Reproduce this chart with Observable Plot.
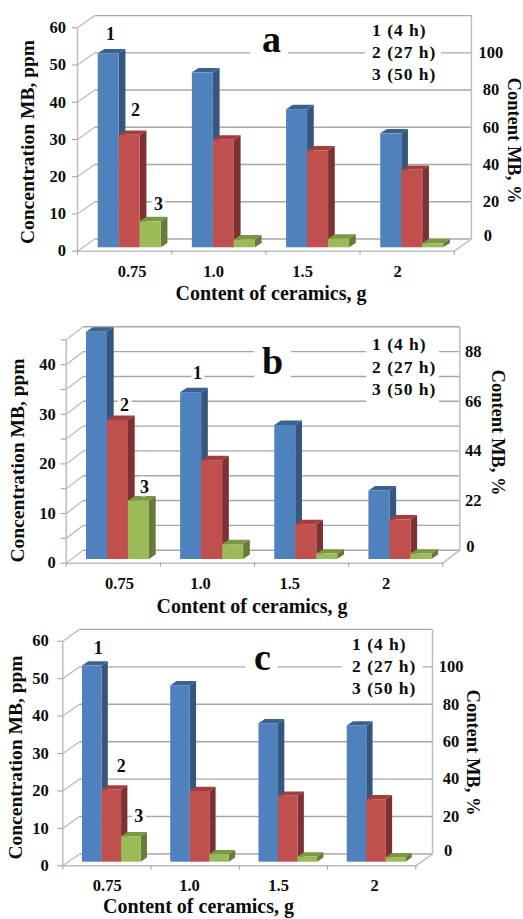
<!DOCTYPE html>
<html><head><meta charset="utf-8">
<script src="https://cdn.jsdelivr.net/npm/d3@7"></script>
<script src="https://cdn.jsdelivr.net/npm/@observablehq/plot@0.6"></script>
<style>html,body{margin:0;padding:0;background:#fff}#root{position:relative;width:523px;height:919px;overflow:hidden}
#root svg{position:absolute;left:0;overflow:visible;background:transparent}</style>
</head><body><div id="root"></div>
<script>
const categories = ["0.75", "1.0", "1.5", "2"];
const seriesNames = ["1 (4 h)", "2 (27 h)", "3 (50 h)"];
const seriesFill = ["#4f81bd", "#c0504d", "#9bbb59"];
const seriesTop = ["#3a6291", "#a23f3d", "#7d9844"];
const seriesSide = ["#34567f", "#7d3231", "#667a3a"];
const xTitle = "Content of ceramics, g";
const yTitle = "Concentration MB, ppm";
const rightTitle = "Content MB, %";

const a4h = [52.1, 47, 37.1, 30.6];
const a27h = [30.2, 28.9, 26, 20.8];
const a50h = [7, 2.1, 2.3, 1.1];
const b4h = [45.8, 33.6, 27, 13.8];
const b27h = [28, 19.9, 7, 8];
const b50h = [11.8, 3, 1.1, 1.1];
const c4h = [52.4, 47.1, 37, 36.4];
const c27h = [19.3, 18.9, 17.6, 16.7];
const c50h = [6.8, 2, 1.4, 1.2];

const aTicks = [0, 10, 20, 30, 40, 50, 60];
const bTicks = [0, 5, 10, 15, 20, 25, 30, 35, 40, 45];
const cTicks = aTicks;
const aPct = [0, 20, 40, 60, 80, 100];
const bPct = [0, 22, 44, 66, 88];
const cPct = aPct;

const SERIF = "'Liberation Serif','Times New Roman',serif";

const panels = [
  {top:0, H:310, letter:"a", vals:[a4h,a27h,a50h], ticks:aTicks, pct:aPct, ratio:2, max:60,
   x0:77, x1:453.7, y0:250.7, yT:27.3, wdx:17.2, wdy:12.2, bar:-3.4, start:.22, bw:.223, bdx:6.7, bdy:4.4, pad:8.5,
   labelAt:[.58,1.445,2.39,3.4], labelDy:21, rdx:19.5,
   xT:[270.5,293], yTi:[27,141.5], rT:[513.5,140], let:[271,39],
   legX:371.5, legY:[30,52,74],
   nums:[[110,33.5],[135,110],[158,204]],
   patches:[[365,441,17,84],[250,288,46,58]]},
  {top:310, H:310, letter:"b", vals:[b4h,b27h,b50h], ticks:bTicks, pct:bPct, ratio:2.2, max:45,
   x0:65.7, x1:442.3, y0:562.7, yT:339.3, wdx:17, wdy:13, bar:-3.7, start:.2155, bw:.223, bdx:6.7, bdy:4.4, pad:7.5,
   labelAt:[.566,1.426,2.374,3.397], labelDy:20.6, rdx:13.5,
   xT:[251.5,606.5], yTi:[17,460], rT:[497.5,432], let:[272,361],
   legX:371.5, legY:[344,367,389],
   nums:[[197,373],[124,405],[144,487]],
   patches:[[366,439,335,408],[254,290.7,335,390]]},
  {top:620, H:299, letter:"c", vals:[c4h,c27h,c50h], ticks:cTicks, pct:cPct, ratio:2, max:60,
   x0:62.3, x1:415.3, y0:865.3, yT:640.7, wdx:16.7, wdy:11.8, bar:-3.6, start:.223, bw:.2215, bdx:6.3, bdy:4.3, pad:11,
   labelAt:[.503,1.435,2.446,3.533], labelDy:20, rdx:18.5,
   xT:[198,906.5], yTi:[15,757], rT:[472,752], let:[262,657],
   legX:351.5, legY:[644,666,688],
   nums:[[97.7,648],[120.7,766],[138.3,815.7]],
   patches:[[341.7,423,632,700],[245,278,660,672]]}
];

const GRID = "#a8a8a8", AXIS = "#bdbdbd";

function poly(points, fill) {
  const p = document.createElementNS("http://www.w3.org/2000/svg", "polygon");
  p.setAttribute("points", points.map(q => q.join(",")).join(" "));
  p.setAttribute("fill", fill);
  return p;
}

function draw(P) {
  const W = 523;
  const ml = P.x0, mr = W - P.x1, mt = P.yT - P.top, mb = P.H - (P.y0 - P.top);
  const pxU = (P.y0 - P.yT) / P.max, pxX = (P.x1 - P.x0) / 4;
  const dxU = P.wdx / pxX, dyU = P.wdy / pxU;
  const X = px => (px - P.x0) / pxX, Y = py => (P.y0 - py) / pxU;

  const note = (s, px, py, o = {}) => Plot.text([s], {
    frameAnchor: "top-left", dx: px - ml, dy: py - P.top - mt,
    textAnchor: "middle", lineAnchor: "middle", fill: "#0c0c0c", fontWeight: "bold", ...o
  });

  const frame = [
    {x1:0, y1:0, x2:0, y2:P.max},
    {x1:0, y1:0, x2:4, y2:0},
    {x1:4, y1:0, x2:4+dxU, y2:dyU},
    {x1:4+dxU, y1:dyU, x2:4+dxU, y2:P.max+dyU}
  ];

  const barMarks = P.vals.map((vals, s) => {
    const rows = vals.map((v, i) => ({i, v, name: seriesNames[s], cat: categories[i]}));
    return Plot.rect(rows, {
      x1: d => d.i + P.start + s * P.bw,
      x2: d => d.i + P.start + (s + 1) * P.bw,
      y1: () => 0, y2: d => d.v,
      fill: seriesFill[s], dy: P.bar,
      render(index, scales, values, dimensions, context, next) {
        const g = next(index, scales, values, dimensions, context);
        for (const k of index) {
          const l = values.x1[k], r = values.x2[k], t = values.y2[k], b = values.y1[k];
          const e = P.bdx, h = P.bdy;
          g.insertBefore(poly([[r,t],[r+e,t-h],[r+e,b-h],[r,b]], seriesSide[s]), g.firstChild);
          g.insertBefore(poly([[l,t],[l+e,t-h],[r+e,t-h],[r,t]], seriesTop[s]), g.firstChild);
        }
        return g;
      }
    });
  });

  const svg = Plot.plot({
    width: W, height: P.H,
    marginLeft: ml, marginRight: mr, marginTop: mt, marginBottom: mb,
    x: {domain: [0, 4], axis: null},
    y: {domain: [0, P.max], axis: null},
    style: {fontFamily: SERIF, fontSize: "16.5px", fontWeight: "bold", color: "#0c0c0c", background: "transparent"},
    marks: [
      Plot.link(P.ticks, {x1: () => dxU, y1: d => d + dyU, x2: () => 4 + dxU, y2: d => d + dyU, stroke: GRID, strokeWidth: 1.4}),
      Plot.link(P.ticks, {x1: () => 0, y1: d => d, x2: () => dxU, y2: d => d + dyU, stroke: AXIS, strokeWidth: 1.3}),
      Plot.link(frame, {x1: "x1", y1: "y1", x2: "x2", y2: "y2", stroke: AXIS, strokeWidth: 1.5}),
      Plot.rect(P.patches, {x1: d => X(d[0]), x2: d => X(d[1]), y1: d => Y(d[2]), y2: d => Y(d[3]), fill: "white"}),
      ...barMarks,
      Plot.axisY({ticks: P.ticks, tickSize: 5, tickPadding: P.pad - 2, stroke: "#9a9a9a", fill: "#0c0c0c", label: null,
        tickFormat: d => (d % 10 === 0 ? String(d) : "")}),
      Plot.axisX({ticks: [0, 1, 2, 3, 4], tickSize: 4, stroke: "#9a9a9a", label: null, tickFormat: () => ""}),
      Plot.text(categories, {x: (d, i) => P.labelAt[i], frameAnchor: "bottom", dy: P.labelDy, lineAnchor: "middle", fill: "#0c0c0c"}),
      Plot.text(P.pct, {
        x: d => 4 + dxU + (d === 0 ? -3 / pxX : 0),
        y: d => d / P.ratio + dyU + (d === 0 ? 3 / pxU : 0),
        dx: P.rdx, fill: "#0c0c0c"
      }),
      ...P.nums.map((n, k) => note(String(k + 1), n[0], n[1], {fontSize: 18, stroke: "white", strokeWidth: 7, fill: "#0c0c0c"})),
      note(P.letter, P.let[0], P.let[1], {fontSize: 38}),
      ...seriesNames.map((s, k) => Plot.text([s], {
        frameAnchor: "top-left", dx: P.legX - ml, dy: P.legY[k] - P.top - mt, textAnchor: "start",
        lineAnchor: "middle", fontSize: 17.5, fill: "#0c0c0c",
        render(i, sc, v, d, c, next) { const g = next(i, sc, v, d, c); g.setAttribute("letter-spacing", "1"); return g; }
      })),
      note(xTitle, P.xT[0], P.xT[1], {fontSize: 20}),
      note(yTitle, P.yTi[0], P.yTi[1], {fontSize: 19.5, rotate: -90}),
      note(rightTitle, P.rT[0], P.rT[1], {fontSize: 18.5, rotate: 90})
    ]
  });
  svg.style.top = P.top + "px";
  document.getElementById("root").appendChild(svg);
}
panels.forEach(draw);
</script></body></html>
